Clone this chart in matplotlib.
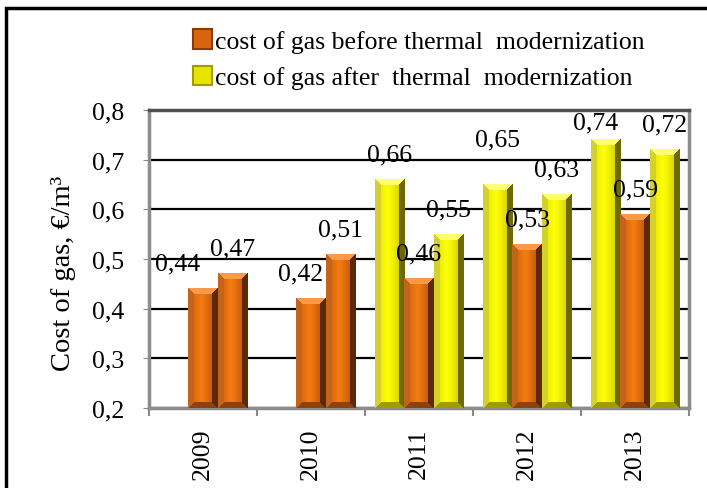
import numpy as np
import matplotlib
matplotlib.use("Agg")
import matplotlib.pyplot as plt
from matplotlib.patches import Patch, Rectangle
from matplotlib.ticker import FuncFormatter, FixedLocator

plt.rcParams['font.family'] = ['Liberation Serif', 'DejaVu Serif']

years = ['2009', '2010', '2011', '2012', '2013']
# three bar slots per year (left / middle / right), nan = no bar
left_vals = [np.nan, np.nan, 0.66, 0.65, 0.74]
mid_vals = [0.44, 0.42, 0.46, 0.53, 0.59]
right_vals = [0.47, 0.51, 0.55, 0.63, 0.72]
# which series each bar belongs to: 'b' = before, 'a' = after
left_kind = ['a', 'a', 'a', 'a', 'a']
mid_kind = ['b', 'b', 'b', 'b', 'b']
right_kind = ['b', 'b', 'a', 'a', 'a']
legend_labels = ['cost of gas before thermal  modernization',
                 'cost of gas after  thermal  modernization']
yticks = [0.2, 0.3, 0.4, 0.5, 0.6, 0.7, 0.8]

FS = 18.5
W, H = 707, 489
fig = plt.figure(figsize=(W / 100, H / 100), dpi=100)
ax = fig.add_axes([149 / W, 80 / H, 540 / W, 298 / H])

x = np.arange(len(years))
bw = 0.27
ax.set_xlim(-0.5, len(years) - 0.5)
ax.set_ylim(0.2, 0.8)

# bevel colours: inner left, inner mid, inner right, bevel left, right, top, bottom
pal = {
    'b': dict(il='#cc5c0c', im='#f47c12', ir='#b04e06',
              l='#c0641e', r='#5c2806', t='#f89a48', bo='#8a4210'),
    'a': dict(il='#e2e200', im='#ffff08', ir='#c4c000',
              l='#d4d030', r='#6e6a00', t='#ffff70', bo='#a09c00'),
}


def hex2rgb(h):
    return np.array(matplotlib.colors.to_rgb(h))


def bevel_img(kind, wpx, hpx, b=6):
    p = pal[kind]
    wpx, hpx = max(wpx, 2), max(hpx, 2)
    img = np.zeros((hpx, wpx, 3))
    # horizontal gradient inside
    t = np.linspace(0, 1, wpx)
    il, im, ir = hex2rgb(p['il']), hex2rgb(p['im']), hex2rgb(p['ir'])
    grad = np.where(t[:, None] < 0.45,
                    il + (im - il) * (t[:, None] / 0.45),
                    im + (ir - im) * ((t[:, None] - 0.45) / 0.55))
    img[:] = grad[None, :, :]
    yy, xx = np.mgrid[0:hpx, 0:wpx]
    dl, dr, dt, db = xx, wpx - 1 - xx, yy, hpx - 1 - yy
    dmin = np.minimum(np.minimum(dl, dr), np.minimum(dt, db))
    edge = dmin < b
    for key, d in (('t', dt), ('bo', db), ('l', dl), ('r', dr)):
        m = edge & (d == dmin)
        img[m] = hex2rgb(p[key])
    return img


def draw_bars(offset, vals, kinds):
    cols = ['#e87018' if k == 'b' else '#ffff00' for k in kinds]
    bars = ax.bar(x + offset, np.array(vals) - 0.2, bw, bottom=0.2,
                  color=cols, zorder=3, linewidth=0)
    for bar, k in zip(bars, kinds):
        if np.isnan(bar.get_height()):
            continue
        x0, y0 = bar.get_x(), bar.get_y()
        x1, y1 = x0 + bar.get_width(), y0 + bar.get_height()
        p0 = ax.transData.transform((x0, y0))
        p1 = ax.transData.transform((x1, y1))
        img = bevel_img(k, int(round(p1[0] - p0[0])), int(round(p1[1] - p0[1])))
        ax.imshow(img, extent=(x0, x1, y0, y1), origin='upper',
                  aspect='auto', zorder=4, interpolation='nearest')
    return bars


draw_bars(-bw, left_vals, left_kind)
draw_bars(0, mid_vals, mid_kind)
draw_bars(bw, right_vals, right_kind)
ax.set_xlim(-0.5, len(years) - 0.5)
ax.set_ylim(0.2, 0.8)


def fmt(v):
    return ('%.2f' % v).replace('.', ',')


# data labels, small pixel nudges
nudges = {(0, 0): (-25, 0), (1, 0): (-10, 0), (3, -1): (0, 20),
          (4, -1): (-10, -8)}
for slot, vals in ((-1, left_vals), (0, mid_vals), (1, right_vals)):
    for i, v in enumerate(vals):
        if np.isnan(v):
            continue
        dx, dy = nudges.get((i, slot), (0, 0))
        ax.annotate(fmt(v), (x[i] + slot * bw, v), xytext=(dx * 0.72, (25 + dy) * 0.72),
                    textcoords='offset points', ha='center', va='center',
                    fontsize=FS, zorder=6, annotation_clip=False)

# axes styling
ax.set_yticks(yticks)
ax.yaxis.set_major_formatter(FuncFormatter(lambda v, p: ('%.1f' % v).replace('.', ',')))
ax.yaxis.grid(True, color='black', linewidth=1.6, zorder=0)
ax.set_axisbelow(True)
ax.tick_params(axis='y', labelsize=FS, length=4, color='#888888', pad=14)
ax.set_xticks(x)
ax.set_xticklabels(years, rotation=90, fontsize=FS)
ax.tick_params(axis='x', length=0, pad=14)
ax.xaxis.set_minor_locator(FixedLocator(np.arange(-0.5, len(years), 1)))
ax.tick_params(axis='x', which='minor', length=6, color='#888888', width=1.5)
for s in ('left', 'right', 'bottom'):
    ax.spines[s].set_color('#8c8c8c')
    ax.spines[s].set_linewidth(2.5)
ax.spines['top'].set_color('#505050')
ax.spines['top'].set_linewidth(2.5)

ax.set_ylabel('Cost of gas, €/m³', fontsize=20.5)
ax.yaxis.set_label_coords(-0.135, 0.455)

handles = [Patch(facecolor='#d8640f', edgecolor='#8a3a0a', linewidth=1.5),
           Patch(facecolor='#e8e400', edgecolor='#a09c00', linewidth=1.5)]
fig.legend(handles, legend_labels, loc='upper left', bbox_to_anchor=(193 / W, 1 - 30 / H),
           frameon=False, fontsize=FS, handlelength=0.75, handleheight=0.8,
           handletextpad=0.1, labelspacing=0.5, borderpad=0, borderaxespad=0)

# outer frame
fig.patches.append(Rectangle((6 / W, -0.1), 1.2, 1 - 9 / H + 0.1, transform=fig.transFigure,
                             fill=False, edgecolor='black', linewidth=2.5))

fig.savefig('out.png', dpi=100)
